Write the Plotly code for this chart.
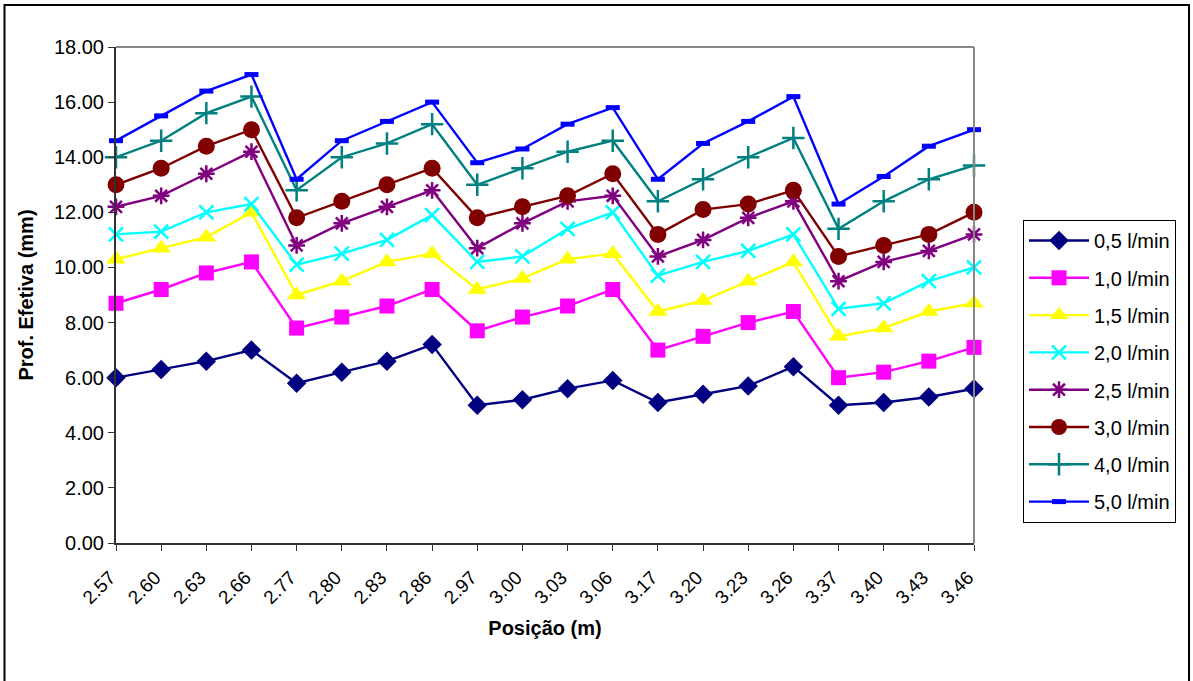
import plotly.graph_objects as go

# Measurement positions (m)
posicoes = ["2.57", "2.60", "2.63", "2.66", "2.77", "2.80", "2.83", "2.86",
            "2.97", "3.00", "3.03", "3.06", "3.17", "3.20", "3.23", "3.26",
            "3.37", "3.40", "3.43", "3.46"]

# Effective depth (mm) for each flow rate
q_0_5 = [6.0, 6.3, 6.6, 7.0, 5.8, 6.2, 6.6, 7.2, 5.0, 5.2, 5.6, 5.9, 5.1, 5.4, 5.7, 6.4, 5.0, 5.1, 5.3, 5.6]
q_1_0 = [8.7, 9.2, 9.8, 10.2, 7.8, 8.2, 8.6, 9.2, 7.7, 8.2, 8.6, 9.2, 7.0, 7.5, 8.0, 8.4, 6.0, 6.2, 6.6, 7.1]
q_1_5 = [10.3, 10.7, 11.1, 12.0, 9.0, 9.5, 10.2, 10.5, 9.2, 9.6, 10.3, 10.5, 8.4, 8.8, 9.5, 10.2, 7.5, 7.8, 8.4, 8.7]
q_2_0 = [11.2, 11.3, 12.0, 12.3, 10.1, 10.5, 11.0, 11.9, 10.2, 10.4, 11.4, 12.0, 9.7, 10.2, 10.6, 11.2, 8.5, 8.7, 9.5, 10.0]
q_2_5 = [12.2, 12.6, 13.4, 14.2, 10.8, 11.6, 12.2, 12.8, 10.7, 11.6, 12.4, 12.6, 10.4, 11.0, 11.8, 12.4, 9.5, 10.2, 10.6, 11.2]
q_3_0 = [13.0, 13.6, 14.4, 15.0, 11.8, 12.4, 13.0, 13.6, 11.8, 12.2, 12.6, 13.4, 11.2, 12.1, 12.3, 12.8, 10.4, 10.8, 11.2, 12.0]
q_4_0 = [14.0, 14.6, 15.6, 16.2, 12.8, 14.0, 14.5, 15.2, 13.0, 13.6, 14.2, 14.6, 12.4, 13.2, 14.0, 14.7, 11.4, 12.4, 13.2, 13.7]
q_5_0 = [14.6, 15.5, 16.4, 17.0, 13.2, 14.6, 15.3, 16.0, 13.8, 14.3, 15.2, 15.8, 13.2, 14.5, 15.3, 16.2, 12.3, 13.3, 14.4, 15.0]

nomes = ["0,5 l/min", "1,0 l/min", "1,5 l/min", "2,0 l/min",
         "2,5 l/min", "3,0 l/min", "4,0 l/min", "5,0 l/min"]
series = [q_0_5, q_1_0, q_1_5, q_2_0, q_2_5, q_3_0, q_4_0, q_5_0]

estilos = [
    dict(color="#000080", symbol="diamond", size=15, lw=0),
    dict(color="#FF00FF", symbol="square", size=15, lw=0),
    dict(color="#FFFF00", symbol="triangle-up", size=17, lw=0),
    dict(color="#00FFFF", symbol="x-thin-open", size=14, lw=2.5),
    dict(color="#800080", symbol="asterisk-open", size=14, lw=2.5),
    dict(color="#800000", symbol="circle", size=17, lw=0),
    dict(color="#008080", symbol="cross-thin-open", size=16, lw=2.5),
    dict(color="#0000FF", symbol="line-ew-open", size=10, lw=5),
]

W, H = 1193, 681
L, R, T, B = 116, 219, 47, 138

fig = go.Figure()
for i, (nome, ys, st) in enumerate(zip(nomes, series, estilos)):
    fig.add_trace(go.Scatter(
        x=posicoes, y=ys, name=nome, mode="lines+markers",
        legendgroup=f"g{i}",
        line=dict(color=st["color"], width=2.4),
        marker=dict(symbol=st["symbol"], size=st["size"], color=st["color"],
                    line=dict(color=st["color"], width=st["lw"])),
        cliponaxis=False,
    ))

def px_x(p):
    return (p - L) / (W - L - R)

def px_y(p):
    return (H - B - p) / (H - T - B)

fig.update_layout(
    width=W, height=H,
    margin=dict(l=L, r=R, t=T, b=B),
    paper_bgcolor="white", plot_bgcolor="white",
    font=dict(family="Arial, Liberation Sans, sans-serif", color="black", size=20),
    showlegend=True,
    legend=dict(
        x=px_x(1023), y=px_y(220), xanchor="left", yanchor="top",
        bordercolor="black", borderwidth=1, bgcolor="white",
        font=dict(size=20), tracegroupgap=8.3, itemwidth=60,
    ),
    xaxis=dict(
        type="category", range=[0, 19],
        showgrid=False, showline=True, linecolor="#333333", linewidth=2,
        ticks="outside", ticklen=6, tickcolor="#333333", tickwidth=1,
        tickangle=-45, tickfont=dict(size=19),
        ticklabelstandoff=8, ticklabelshift=-6,
        title=dict(text="<b>Posição (m)</b>", font=dict(size=20), standoff=14),
        mirror=False,
    ),
    yaxis=dict(
        range=[0, 18], dtick=2, tickformat=".2f",
        showgrid=False, showline=True, linecolor="#333333", linewidth=2,
        ticks="outside", ticklen=6, tickcolor="#333333", tickwidth=1,
        tickfont=dict(size=20),
        title=dict(text="<b>Prof. Efetiva (mm)</b>", font=dict(size=20), standoff=15),
        zeroline=False,
    ),
    shapes=[
        # plot area frame (top and right edges)
        dict(type="line", xref="paper", yref="paper", x0=0, x1=1, y0=1, y1=1,
             line=dict(color="#888888", width=2)),
        dict(type="line", xref="paper", yref="paper", x0=1, x1=1, y0=0, y1=1,
             line=dict(color="#888888", width=2)),
        # chart border
        dict(type="rect", xref="paper", yref="paper",
             x0=px_x(4.5), x1=px_x(1189), y0=px_y(700), y1=px_y(5),
             line=dict(color="black", width=2), layer="below"),
    ],
)

fig.write_html("out.html")
